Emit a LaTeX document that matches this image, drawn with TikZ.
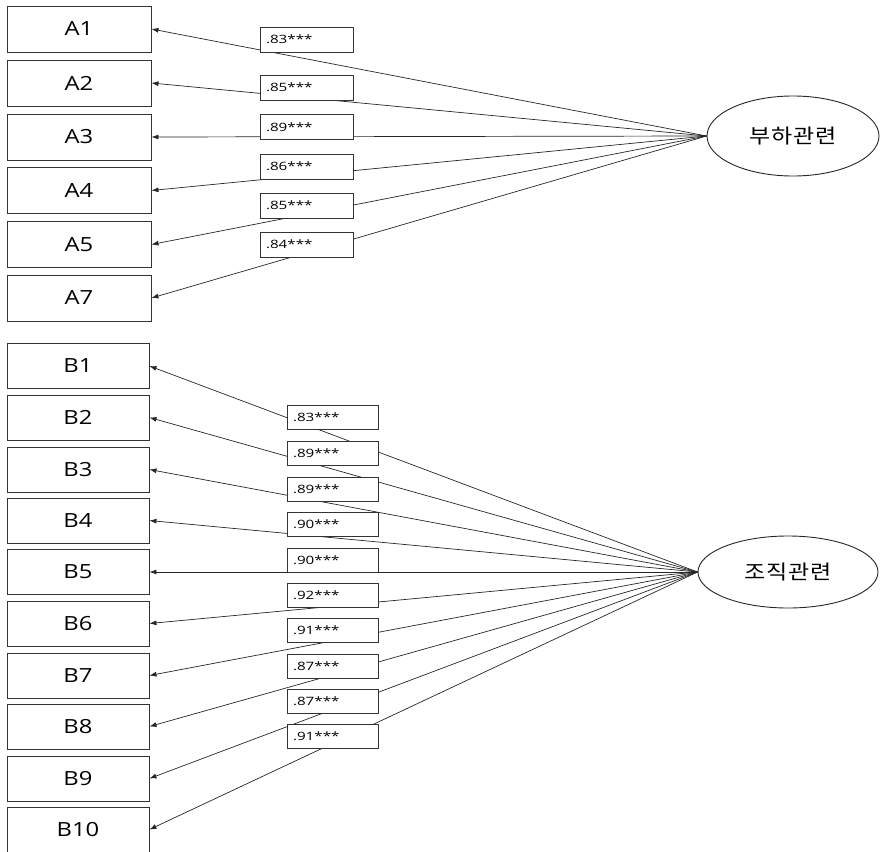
\documentclass[tikz,border=0pt]{standalone}
\usepackage{fontspec}
\setmainfont{Open Sans}
\newfontfamily\itemfont[FakeStretch=1.22]{Open Sans}
\newfontfamily\loadfont[FakeStretch=1.32]{Open Sans}
\newfontfamily\krfont[FakeStretch=1.15]{Noto Sans CJK KR}
\usetikzlibrary{arrows.meta,shapes.geometric}
\tikzset{
  itembox/.style={draw=black!80,line width=0.9pt,rectangle,minimum width=144pt,minimum height=46pt,inner sep=0pt,font=\itemfont\fontsize{19.5}{22}\selectfont},
  itemboxB/.style={itembox,minimum width=142pt,minimum height=45pt},
  latent/.style={draw=black!85,line width=0.9pt,ellipse,inner sep=0pt,font=\krfont\fontsize{20}{22}\selectfont},
  loadbox/.style={draw=black!80,line width=0.8pt,fill=white,rectangle,minimum width=93pt,minimum height=25pt,inner sep=0pt,text width=81pt,align=left,font=\loadfont\fontsize{11.5}{14}\selectfont},
  loadboxB/.style={loadbox,minimum width=91pt,minimum height=24pt,text width=79pt},
  path/.style={draw=black!85,line width=0.7pt,-{Latex[length=7pt,width=5pt]}},
}
\begin{document}
\begin{tikzpicture}[x=1pt,y=-1pt]
\useasboundingbox (0,0) rectangle (880,851);
% A items
\node[itembox] (A1) at (79,29) {A1};
\node[itembox] (A2) at (79,83) {A2};
\node[itembox] (A3) at (79,137) {A3};
\node[itembox] (A4) at (79,190.5) {A4};
\node[itembox] (A5) at (79,244.5) {A5};
\node[itembox] (A7) at (79,298) {A7};
\node[latent,minimum width=172pt,minimum height=80pt] (F1) at (793,136) {부\kern1pt 하\kern1pt 관\kern1pt 련};
% B items
\node[itemboxB] (B1) at (78,366) {B1};
\node[itemboxB] (B2) at (78,417.5) {B2};
\node[itemboxB] (B3) at (78,469.5) {B3};
\node[itemboxB] (B4) at (78,520.5) {B4};
\node[itemboxB] (B5) at (78,572) {B5};
\node[itemboxB] (B6) at (78,623.5) {B6};
\node[itemboxB] (B7) at (78,675.5) {B7};
\node[itemboxB] (B8) at (78,726.5) {B8};
\node[itemboxB] (B9) at (78,778.5) {B9};
\node[itemboxB] (B10) at (78,829.5) {B10};
\node[latent,minimum width=180pt,minimum height=72pt] (F2) at (788,572) {조\kern1pt 직\kern1pt 관\kern1pt 련};
% paths
\foreach \a in {A1,A2,A3,A4,A5,A7} \draw[path] (F1.west) -- (\a.east);
\foreach \b in {B1,B2,B3,B4,B5,B6,B7,B8,B9,B10} \draw[path] (F2.west) -- (\b.east);
% loadings A
\node[loadbox] (la1) at (306.5,39.5) {.83***};
\node[loadbox] (la2) at (306.5,87.5) {.85***};
\node[loadbox] (la3) at (306.5,127) {.89***};
\node[loadbox] (la4) at (306.5,166.5) {.86***};
\node[loadbox] (la5) at (306.5,205.5) {.85***};
\node[loadbox] (la7) at (306.5,244.5) {.84***};
% loadings B
\node[loadboxB] (lb1) at (332.5,417) {.83***};
\node[loadboxB] (lb2) at (332.5,453) {.89***};
\node[loadboxB] (lb3) at (332.5,489) {.89***};
\node[loadboxB] (lb4) at (332.5,524.5) {.90***};
\node[loadboxB] (lb5) at (332.5,560) {.90***};
\node[loadboxB] (lb6) at (332.5,595) {.92***};
\node[loadboxB] (lb7) at (332.5,630.5) {.91***};
\node[loadboxB] (lb8) at (332.5,666) {.87***};
\node[loadboxB] (lb9) at (332.5,701.5) {.87***};
\node[loadboxB] (lb10) at (332.5,736.5) {.91***};
\end{tikzpicture}
\end{document}
